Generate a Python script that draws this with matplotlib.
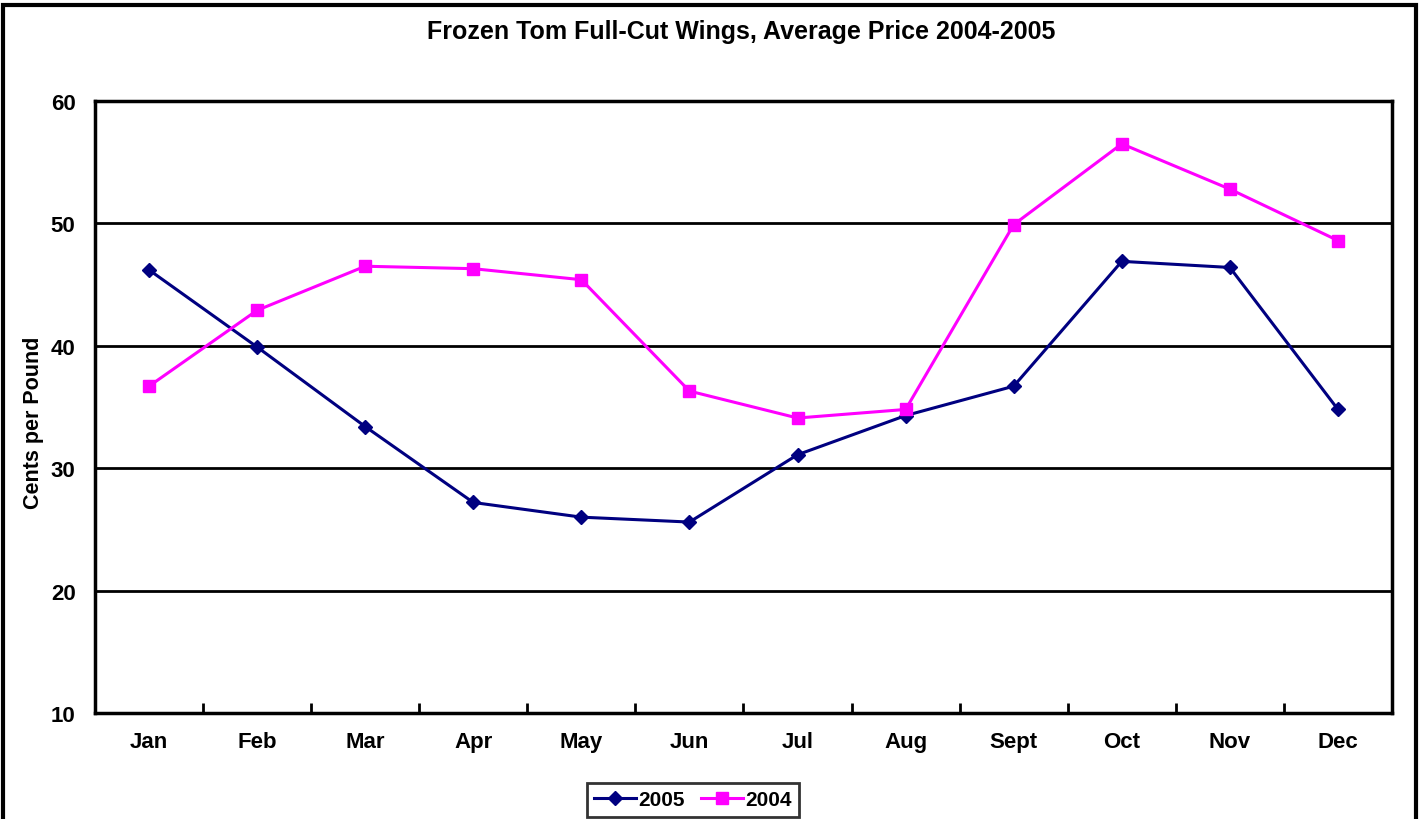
import matplotlib.pyplot as plt
from matplotlib.patches import Rectangle
from matplotlib.ticker import FixedLocator, NullLocator

plt.rcParams['font.family'] = ['Liberation Sans', 'DejaVu Sans']
plt.rcParams['font.weight'] = 'bold'

months = ['Jan', 'Feb', 'Mar', 'Apr', 'May', 'Jun', 'Jul', 'Aug', 'Sept', 'Oct', 'Nov', 'Dec']
price_2005 = [46.2, 39.9, 33.4, 27.2, 26.0, 25.6, 31.1, 34.3, 36.7, 46.9, 46.4, 34.8]
price_2004 = [36.7, 42.9, 46.5, 46.3, 45.4, 36.3, 34.1, 34.8, 49.9, 56.5, 52.8, 48.6]

fig = plt.figure(figsize=(14.25, 8.2), dpi=100)
ax = fig.add_axes([95 / 1425, 1 - 714 / 820, (1392 - 95) / 1425, (714 - 102) / 820])

x = range(len(months))
ax.plot(x, price_2005, color='#000080', lw=2.2, marker='D', ms=7, label='2005', zorder=3)
ax.plot(x, price_2004, color='#FF00FF', lw=2.2, marker='s', ms=8, label='2004', zorder=3)

ax.set_xlim(-0.5, len(months) - 0.5)
ax.set_ylim(10, 60)
ax.set_yticks(range(10, 61, 10))
ax.set_xticks(list(x))
ax.set_xticklabels(months, fontsize=16, fontweight='bold')
ax.xaxis.set_minor_locator(FixedLocator([i + 0.5 for i in range(len(months) - 1)]))
ax.tick_params(axis='x', which='major', length=0, pad=13)
ax.tick_params(axis='x', which='minor', direction='in', length=7, width=2)
ax.tick_params(axis='y', length=0, pad=14, labelsize=16)
ax.yaxis.set_minor_locator(NullLocator())
for lbl in ax.get_yticklabels():
    lbl.set_fontweight('bold')

ax.grid(axis='y', color='black', lw=2)
ax.set_axisbelow(True)
for sp in ax.spines.values():
    sp.set_linewidth(2.5)

ax.set_ylabel('Cents per Pound', fontsize=15.5, fontweight='bold')
ax.yaxis.set_label_coords(-0.039, 0.475)
fig.text(0.52, 1 - 32 / 820, 'Frozen Tom Full-Cut Wings, Average Price 2004-2005',
         ha='center', va='center', fontsize=18, fontweight='bold')

leg = ax.legend(loc='center', bbox_to_anchor=(693 / 1425, 1 - 801 / 820),
                bbox_transform=fig.transFigure, ncol=2, frameon=True, fancybox=False,
                fontsize=15, handlelength=2.0, handletextpad=0.1, columnspacing=0.8,
                borderpad=0.35)
leg.get_frame().set_edgecolor('black')
leg.get_frame().set_linewidth(2)

# outer chart border
fig.patches.append(Rectangle((3 / 1425, -0.05), (1416 - 3) / 1425, 1.05 - 6 / 820,
                             transform=fig.transFigure, fill=False, ec='black', lw=3))

fig.savefig('out.png', dpi=100)
